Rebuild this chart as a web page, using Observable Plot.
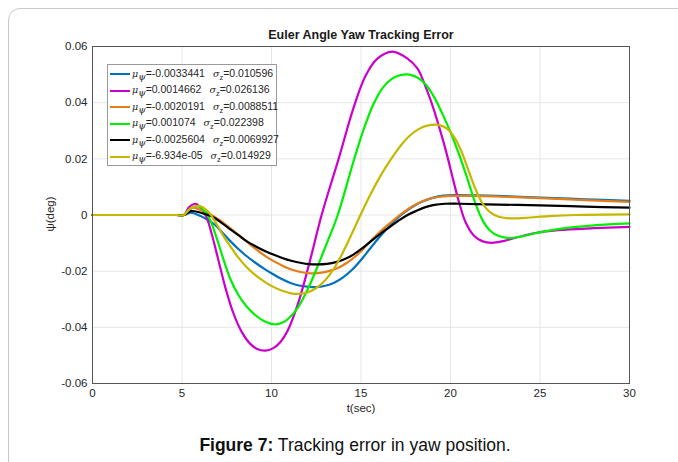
<!DOCTYPE html>
<html><head><meta charset="utf-8">
<script src="https://cdn.jsdelivr.net/npm/d3@7"></script>
<script src="https://cdn.jsdelivr.net/npm/@observablehq/plot@0.6"></script>
<style>
body{margin:0;background:#fff;font-family:"Liberation Sans",Arial,sans-serif;width:678px;height:462px;overflow:hidden;position:relative}
#frame{position:absolute;left:8px;top:8px;width:720px;height:520px;border:1px solid #c8c8c8;border-radius:12px;box-sizing:border-box}
#chart{position:absolute;left:0;top:0}
.lbl{position:absolute;color:#262626;white-space:nowrap}
#title{left:361px;top:28px;transform:translateX(-50%);font-weight:bold;font-size:12.5px;color:#1a1a1a}
#xlabel{left:361px;top:402px;transform:translateX(-50%);font-size:11.5px}
#ylabel{left:50px;top:214px;transform:translate(-50%,-50%) rotate(-90deg);font-size:11.5px}
#caption{left:355px;top:435px;transform:translateX(-50%);font-size:17.5px;color:#111}
#legend{position:absolute;left:107px;top:64px;width:170px;height:102px;border:1px solid #9a9a9a;background:#fff;box-sizing:border-box;padding-top:1px;font-size:10.5px;color:#262626}
.row{height:16.5px;display:flex;align-items:center;white-space:nowrap}
.row span{flex:none}
.sw{width:20px;height:2.2px;margin-left:2px;margin-right:2px}
.sig{margin-left:8px}
sub{font-size:7.5px;vertical-align:-3px}
i{font-family:"DejaVu Serif","Liberation Serif",serif;font-size:9.5px}
</style></head><body>
<div id="frame"></div>
<div id="chart"></div>
<div id="title" class="lbl">Euler Angle Yaw Tracking Error</div>
<div id="xlabel" class="lbl">t(sec)</div>
<div id="ylabel" class="lbl">ψ(deg)</div>
<div id="legend"></div>
<div id="caption" class="lbl"><b>Figure 7:</b> Tracking error in yaw position.</div>
<script>
// ---- data (t in sec, yaw error in deg) ----
const seriesNames = ["s1","s2","s3","s4","s5","s6"];
const seriesColors = ["#0072BD","#CC00CC","#E37E18","#00F000","#000000","#C4B800"];
const legendMu = ["-0.0033441","0.0014662","-0.0020191","0.001074","-0.0025604","-6.934e-05"];
const legendSigma = ["0.010596","0.026136","0.0088511","0.022398","0.0069927","0.014929"];
const xTicks = [0,5,10,15,20,25,30];
const yTicks = [-0.06,-0.04,-0.02,0,0.02,0.04,0.06];

const blue = [[0,0],[2.5,0],[4.7,0],[5.1,0],[5.5,0.0008],[6.0,-0.0003],[6.4,-0.0016],[6.8,-0.0033],[7.25,-0.0062],[7.7,-0.0093],[8.15,-0.0121],[8.6,-0.0146],[9.1,-0.0170],[9.6,-0.0192],[10.1,-0.0211],[10.6,-0.0229],[11.1,-0.0243],[11.6,-0.0252],[12.1,-0.0256],[12.5,-0.0257],[13.0,-0.0252],[13.5,-0.0241],[14.0,-0.0222],[14.5,-0.0195],[15.0,-0.0160],[15.5,-0.0120],[16.0,-0.0081],[16.5,-0.0045],[17.0,-0.0013],[17.5,0.0013],[18.0,0.0034],[18.5,0.0050],[19.0,0.0061],[19.6,0.0069],[20.3,0.0071],[21.5,0.0070],[23,0.0067],[25,0.0062],[27.5,0.0056],[30,0.0050]];
const magenta = [[0,0],[2.5,0],[4.7,0],[5.1,0],[5.4,0.0028],[5.75,0.004],[6.05,0.0025],[6.35,-0.0005],[6.65,-0.0065],[7.0,-0.0152],[7.45,-0.0265],[7.9,-0.0355],[8.35,-0.0418],[8.8,-0.0458],[9.2,-0.0477],[9.65,-0.0483],[10.1,-0.0474],[10.5,-0.0452],[10.9,-0.0412],[11.5,-0.0312],[12.1,-0.0175],[12.8,0.0],[13.75,0.02],[14.6,0.0385],[15.25,0.0495],[15.9,0.0556],[16.75,0.0582],[17.6,0.0557],[18.15,0.0522],[18.6,0.0458],[19.05,0.0379],[19.45,0.0295],[19.8,0.0215],[20.15,0.0125],[20.5,0.0040],[20.85,-0.0027],[21.3,-0.0073],[21.8,-0.0094],[22.3,-0.0099],[23.0,-0.0092],[23.7,-0.0080],[24.75,-0.0064],[26,-0.0054],[28,-0.0047],[30,-0.0042]];
const orange = [[0,0],[2.5,0],[4.7,0],[5.1,0],[5.6,0.0026],[6.0,0.0019],[6.4,0.0008],[6.8,-0.0006],[7.2,-0.0023],[7.65,-0.0045],[8.1,-0.0068],[8.6,-0.0094],[9.2,-0.0125],[9.7,-0.0148],[10.2,-0.0167],[10.7,-0.0183],[11.2,-0.0196],[11.7,-0.0204],[12.2,-0.0208],[12.7,-0.0206],[13.2,-0.0200],[13.7,-0.0189],[14.2,-0.0171],[14.7,-0.0147],[15.2,-0.0116],[15.7,-0.0082],[16.2,-0.0052],[16.7,-0.0025],[17.2,0.0001],[17.7,0.0024],[18.2,0.0042],[18.7,0.0055],[19.3,0.0064],[20.0,0.0068],[21,0.0068],[23,0.0065],[25,0.0060],[27.5,0.0053],[30,0.0047]];
const green = [[0,0],[2.5,0],[4.7,0],[5.1,0],[5.45,0.0022],[5.85,0.0032],[6.25,0.0015],[6.6,-0.0022],[6.95,-0.0085],[7.3,-0.0155],[7.7,-0.0228],[8.15,-0.0285],[8.6,-0.0325],[9.1,-0.0357],[9.6,-0.0378],[10.15,-0.0389],[10.6,-0.0384],[11.0,-0.0366],[11.5,-0.0327],[12.0,-0.0268],[12.5,-0.0195],[13.0,-0.0115],[13.7,0.0],[14.6,0.0195],[15.15,0.0305],[15.7,0.0395],[16.2,0.0452],[16.7,0.0484],[17.2,0.0498],[17.7,0.0500],[18.2,0.0488],[18.65,0.0462],[19.1,0.0418],[19.55,0.0360],[20.0,0.0295],[20.5,0.0212],[21.0,0.0118],[21.4,0.0040],[21.8,-0.0020],[22.2,-0.0055],[22.7,-0.0075],[23.3,-0.0082],[24.0,-0.0076],[24.75,-0.0065],[26,-0.0050],[28,-0.0037],[30,-0.0030]];
const black = [[0,0],[2.5,0],[4.7,0],[5.1,0],[5.5,0.0014],[6.0,0.0009],[6.4,0.0001],[6.8,-0.0010],[7.25,-0.0030],[7.7,-0.0051],[8.15,-0.0072],[8.6,-0.0093],[9.1,-0.0111],[9.6,-0.0127],[10.1,-0.0141],[10.6,-0.0153],[11.1,-0.0163],[11.6,-0.0170],[12.1,-0.0175],[12.6,-0.0176],[13.1,-0.0174],[13.6,-0.0168],[14.1,-0.0157],[14.6,-0.0140],[15.1,-0.0117],[15.6,-0.0091],[16.1,-0.0066],[16.6,-0.0043],[17.1,-0.0020],[17.6,0.0000],[18.1,0.0015],[18.6,0.0028],[19.1,0.0036],[19.7,0.0040],[20.5,0.0040],[22,0.0038],[25,0.0034],[27.5,0.0030],[30,0.0026]];
const yellow = [[0,0],[2.5,0],[4.7,0],[5.1,0],[5.5,0.0025],[6.0,0.0032],[6.4,0.0016],[6.8,-0.0018],[7.25,-0.0068],[7.7,-0.0112],[8.15,-0.0152],[8.6,-0.0185],[9.1,-0.0214],[9.6,-0.0237],[10.1,-0.0256],[10.6,-0.0270],[11.1,-0.0279],[11.5,-0.0281],[12.0,-0.0276],[12.5,-0.0260],[13.0,-0.0232],[13.5,-0.0190],[14.0,-0.0132],[14.5,-0.0065],[14.97,0.0],[15.45,0.0063],[15.9,0.0118],[16.4,0.0172],[16.85,0.0215],[17.3,0.0254],[17.75,0.0284],[18.2,0.0305],[18.7,0.0318],[19.3,0.0321],[19.8,0.0308],[20.2,0.0278],[20.6,0.0228],[21.0,0.0160],[21.4,0.0092],[21.8,0.0040],[22.2,0.0010],[22.7,-0.0006],[23.4,-0.0012],[24.2,-0.0010],[25.5,-0.0004],[27,0.0],[30,0.0002]];

const allSeries = [blue, magenta, orange, green, black, yellow];
const table = allSeries.flatMap((s, i) => s.map(([t, y]) => ({t, y, k: seriesNames[i]})));

const chart = Plot.plot({
  width: 678, height: 420,
  marginLeft: 92, marginRight: 49, marginTop: 46, marginBottom: 37,
  style: {fontFamily: '"Liberation Sans",Arial,sans-serif', fontSize: "11.5px", color: "#262626", background: "transparent"},
  x: {domain: [0, 30]},
  y: {domain: [-0.06, 0.06]},
  color: {domain: seriesNames, range: seriesColors},
  marks: [
    Plot.gridX(xTicks, {stroke: "#e6e6e6", strokeOpacity: 1}),
    Plot.gridY(yTicks, {stroke: "#e6e6e6", strokeOpacity: 1}),
    Plot.axisX(xTicks, {tickSize: 0, tickPadding: 5, label: null}),
    Plot.axisY(yTicks, {tickSize: 0, tickPadding: 5, label: null, tickFormat: d => String(d)}),
    Plot.line(table, {x: "t", y: "y", z: "k", stroke: "k", strokeWidth: 2.2, curve: "catmull-rom"}),
    Plot.frame({stroke: "#555", strokeWidth: 1})
  ]
});
document.getElementById("chart").appendChild(chart);

const leg = document.getElementById("legend");
seriesNames.forEach((n, i) => {
  const r = document.createElement("div");
  r.className = "row";
  r.innerHTML = `<span class="sw" style="background:${seriesColors[i]}"></span><span><i>μ</i><sub><i>ψ</i></sub>=${legendMu[i]}</span><span class="sig"><i>σ</i><sub>z</sub>=${legendSigma[i]}</span>`;
  leg.appendChild(r);
});
</script>
</body></html>
